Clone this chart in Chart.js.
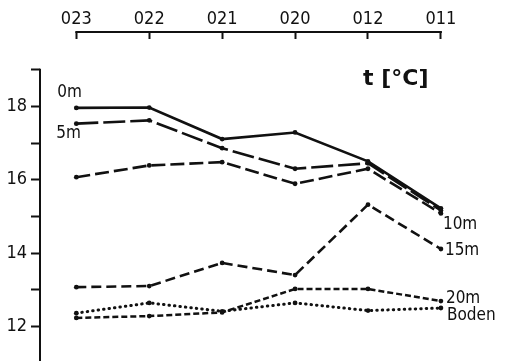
<!DOCTYPE html>
<html><head><meta charset="utf-8">
<script src="https://cdn.jsdelivr.net/npm/chart.js@4/dist/chart.umd.min.js"></script>
<style>html,body{margin:0;padding:0;background:#fff}#wrap{width:505px;height:361px;position:relative}</style>
</head><body><div id="wrap"><canvas id="c" width="505" height="361"></canvas></div>
<script>
const stations = ["023","022","021","020","012","011"];
const yTickValues = [12,13,14,15,16,17,18,19];
const depthLabels = ["0m","5m","10m","15m","20m","Boden"];
const t0m    = [17.96,17.97,17.11,17.29,16.50,15.22];
const t5m    = [17.53,17.62,16.86,16.30,16.45,15.16];
const t10m   = [16.07,16.39,16.48,15.89,16.30,15.08];
const t15m   = [13.07,13.10,13.73,13.40,15.32,14.11];
const t20m   = [12.23,12.28,12.38,13.02,13.02,12.69];
const tBoden = [12.36,12.64,12.41,12.64,12.43,12.50];

const series = [t0m,t5m,t10m,t15m,t20m,tBoden];
const dashes = [[],[22,5],[14,5],[10,5],[6,3],[0.5,5]];
const caps = ['butt','butt','butt','butt','butt','round'];
const widths = [2.6,2.6,2.6,2.6,2.5,3];
const INK = '#111';
const FONT = '"DejaVu Sans Condensed","Liberation Sans",sans-serif';

const datasets = series.map((arr,k)=>({
  label: depthLabels[k],
  data: arr.map((v,i)=>({x:i,y:v})),
  borderColor: INK, backgroundColor: INK,
  borderWidth: widths[k], borderDash: dashes[k], borderCapStyle: caps[k],
  tension: 0, pointRadius: 2.4, pointHoverRadius: 2.4, pointBorderWidth: 0,
  pointBackgroundColor: INK, fill: false
}));

// label offsets relative to a point of each series: [pointIndex, dx, dy]
const labelPos = [[0,-19,-15],[0,-20,10],[5,2,11],[5,4,2],[5,5,-2],[5,6,8]];

const deco = {
  id:'deco',
  afterDraw(chart){
    const ctx = chart.ctx, xs = chart.scales.x, ys = chart.scales.y;
    ctx.save();
    ctx.strokeStyle = INK; ctx.lineWidth = 2; ctx.lineCap='butt';
    const yl = xs.bottom - 7;
    ctx.beginPath();
    ctx.moveTo(xs.getPixelForValue(0)-1, yl);
    ctx.lineTo(xs.getPixelForValue(stations.length-1)+1, yl);
    ctx.stroke();
    const xl = ys.right;
    ctx.beginPath();
    ctx.moveTo(xl, ys.getPixelForValue(19)-1);
    ctx.lineTo(xl, chart.height);
    ctx.stroke();
    ctx.fillStyle = INK; ctx.font = '17px '+FONT; ctx.textBaseline='middle'; ctx.textAlign='left';
    labelPos.forEach((p,k)=>{
      const pt = chart.getDatasetMeta(k).data[p[0]];
      ctx.fillText(depthLabels[k], pt.x + p[1], pt.y + p[2]);
    });
    ctx.font = 'bold 22px "DejaVu Sans",sans-serif';
    ctx.fillText('t [°C]', 363, 79);
    ctx.restore();
  }
};

new Chart(document.getElementById('c'), {
  type:'line',
  data:{datasets},
  plugins:[deco],
  options:{
    responsive:false, animation:false,
    layout:{padding:0},
    plugins:{legend:{display:false}, tooltip:{enabled:false}},
    scales:{
      x:{
        type:'linear', position:'top', min:-0.498, max:5.846,
        afterBuildTicks(s){ s.ticks = stations.map((_,i)=>({value:i})); },
        afterFit(s){ s.height = 39; s.paddingLeft = 0; s.paddingRight = 0; },
        ticks:{ callback:(v)=>stations[v] ?? '', color:INK, font:{family:FONT,size:18,lineHeight:1.2}, padding:2, maxRotation:0, autoSkip:false },
        grid:{ drawOnChartArea:false, drawTicks:true, tickLength:7, tickWidth:2, tickColor:INK },
        border:{display:false}
      },
      y:{
        type:'linear', min:11.12, max:19.84,
        afterBuildTicks(s){ s.ticks = yTickValues.map(v=>({value:v})); },
        afterFit(s){ s.width = 40; s.paddingTop = 0; s.paddingBottom = 0; },
        ticks:{ callback:(v)=> (v%2===0 ? String(v) : ''), color:INK, font:{family:FONT,size:18}, padding:4, autoSkip:false },
        grid:{ drawOnChartArea:false, drawTicks:true, tickLength:9, tickWidth:2, tickColor:INK },
        border:{display:false}
      }
    }
  }
});
</script></body></html>
